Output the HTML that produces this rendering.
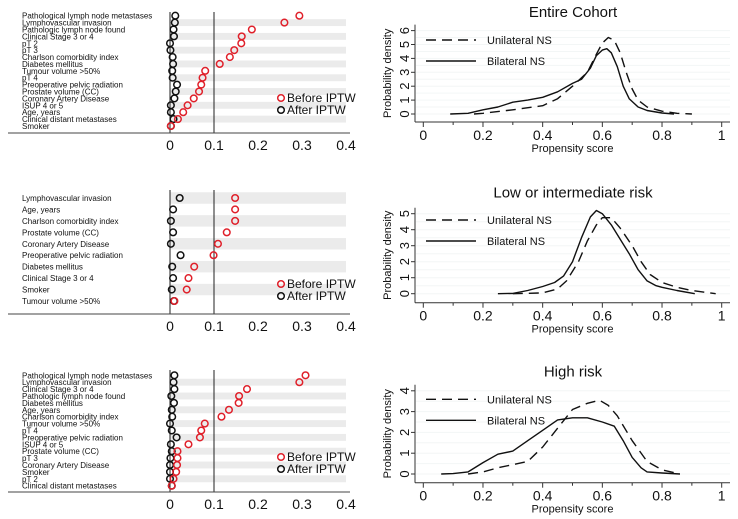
<!DOCTYPE html>
<html><head><meta charset="utf-8"><style>
html,body{margin:0;padding:0;background:#fff;}
svg{display:block;font-family:"Liberation Sans",sans-serif;}
</style></head><body>
<svg id="chart" width="738" height="519" viewBox="0 0 738 519" xmlns="http://www.w3.org/2000/svg"></svg>
<script>
// ---- Balance plots data ----
const topLabels = ["Pathological lymph node metastases","Lymphovascular invasion","Pathologic lymph node found","Clinical Stage 3 or 4","pT 2","pT 3","Charlson comorbidity index","Diabetes mellitus","Tumour volume >50%","pT 4","Preoperative pelvic radiation","Prostate volume (CC)","Coronary Artery Disease","ISUP 4 or 5","Age, years","Clinical distant metastases","Smoker"];
const topBefore = [0.294,0.26,0.186,0.163,0.162,0.146,0.136,0.113,0.08,0.074,0.071,0.066,0.054,0.040,0.030,0.018,0.002];
const topAfter  = [0.012,0.011,0.008,0.009,0.0,0.001,0.006,0.007,0.005,0.006,0.016,0.013,0.010,0.002,0.002,0.008,0.002];
const midLabels = ["Lymphovascular invasion","Age, years","Charlson comorbidity index","Prostate volume (CC)","Coronary Artery Disease","Preoperative pelvic radiation","Diabetes mellitus","Clinical Stage 3 or 4","Smoker","Tumour volume >50%"];
const midBefore = [0.148,0.148,0.148,0.129,0.109,0.099,0.055,0.042,0.038,0.010];
const midAfter  = [0.022,0.007,0.002,0.007,0.002,0.024,0.005,0.007,0.004,0.009];
const botLabels = ["Pathological lymph node metastases","Lymphovascular invasion","Clinical Stage 3 or 4","Pathologic lymph node found","Diabetes mellitus","Age, years","Charlson comorbidity index","Tumour volume >50%","pT 4","Preoperative pelvic radiation","ISUP 4 or 5","Prostate volume (CC)","pT 3","Coronary Artery Disease","Smoker","pT 2","Clinical distant metastases"];
const botBefore = [0.308,0.294,0.175,0.157,0.156,0.134,0.117,0.079,0.071,0.068,0.042,0.017,0.017,0.016,0.014,0.008,0.004];
const botAfter  = [0.010,0.008,0.010,0.003,0.009,0.004,0.005,0.0,0.004,0.015,0.002,0.004,0.001,0.0,0.0,0.0,0.004];
const balTicks = [0,0.1,0.2,0.3,0.4];
const balTickLabels = ["0","0.1","0.2","0.3","0.4"];

// ---- Density data ----
const entUniX = [0.17,0.2,0.3,0.4,0.45,0.5,0.55,0.58,0.6,0.62,0.64,0.66,0.68,0.7,0.72,0.75,0.8,0.85,0.9];
const entUniY = [0,0.05,0.3,0.6,1.1,2.0,3.0,4.3,5.1,5.5,5.3,4.4,3.0,1.8,1.0,0.5,0.2,0.05,0];
const entBiX = [0.09,0.15,0.2,0.25,0.3,0.35,0.4,0.45,0.5,0.53,0.56,0.58,0.6,0.615,0.63,0.65,0.67,0.69,0.72,0.75,0.8,0.84];
const entBiY = [0,0.05,0.3,0.5,0.85,1.0,1.2,1.6,2.2,2.5,3.3,4.2,4.6,4.7,4.4,3.4,2.0,1.1,0.5,0.25,0.07,0];
const lowUniX = [0.3,0.4,0.45,0.48,0.52,0.55,0.58,0.6,0.63,0.66,0.7,0.73,0.76,0.8,0.85,0.9,0.98];
const lowUniY = [0,0.05,0.3,0.8,2.0,3.3,4.3,4.75,4.75,4.1,3.0,2.0,1.2,0.7,0.4,0.2,0];
const lowBiX = [0.25,0.3,0.35,0.4,0.44,0.47,0.5,0.53,0.56,0.58,0.6,0.63,0.66,0.69,0.72,0.75,0.78,0.8,0.85,0.91];
const lowBiY = [0,0.02,0.2,0.45,0.7,1.1,2.0,3.5,4.8,5.2,5.0,4.3,3.4,2.5,1.5,0.8,0.5,0.4,0.2,0];
const highUniX = [0.15,0.2,0.25,0.3,0.35,0.4,0.45,0.5,0.55,0.59,0.62,0.65,0.7,0.75,0.8,0.86];
const highUniY = [0,0.1,0.3,0.45,0.6,1.3,2.2,3.1,3.4,3.55,3.3,2.8,1.6,0.6,0.2,0];
const highBiX = [0.06,0.1,0.15,0.2,0.25,0.3,0.35,0.4,0.45,0.5,0.55,0.6,0.64,0.67,0.7,0.73,0.75,0.8,0.86];
const highBiY = [0,0.02,0.1,0.55,0.95,1.1,1.6,2.1,2.6,2.7,2.7,2.5,2.3,1.6,0.8,0.3,0.1,0.05,0];
const densXTicks = [0,0.2,0.4,0.6,0.8,1];
const densXTickLabels = ["0","0.2","0.4","0.6","0.8","1"];

const NS="http://www.w3.org/2000/svg";
const svg=document.getElementById('chart');
function el(tag,attrs,parent){const e=document.createElementNS(NS,tag);for(const k in attrs)e.setAttribute(k,attrs[k]);(parent||svg).appendChild(e);return e;}

function balance(name,labels,before,after,rowTop,rowBot,lineTop,axisY,bandOdd,legY){
  const g=el('g',{});
  
  
  const xs=v=>170+v*440;
  const n=labels.length, step=(rowBot-rowTop)/(n-1);
  const ys=i=>rowTop+i*step;
  for(let i=0;i<n;i++){
    if((i%2===1)===bandOdd){
      const b=el('rect',{x:170,y:ys(i)-step/2,width:176,height:step,fill:'#ebebeb'},g);
      
      
    }
  }
  [0,0.1].forEach(v=>{
    const l=el('line',{x1:xs(v),x2:xs(v),y1:lineTop,y2:axisY,stroke:'#222','stroke-width':1},g);
    
    
  });
  const ax=el('line',{x1:8,x2:350,y1:axisY,y2:axisY,stroke:'#444','stroke-width':1},g);
  
  
  balTicks.forEach((v,i)=>{
    const t=el('text',{x:xs(v),y:axisY+17,'font-size':14,'text-anchor':'middle',fill:'#111'},g);
    t.textContent=balTickLabels[i];
    
    
  });
  const fs=8;
  for(let i=0;i<n;i++){
    const t=el('text',{x:22,y:ys(i)+3,'font-size':fs,fill:'#111'},g);
    t.textContent=labels[i];
    
    
    const a=el('circle',{cx:xs(after[i]),cy:ys(i),r:3.3,fill:'none',stroke:'#111','stroke-width':1.5},g);
    
    
    const b=el('circle',{cx:xs(before[i]),cy:ys(i),r:3.3,fill:'none',stroke:'#e0202a','stroke-width':1.5},g);
    
    
  }
  const lg=el('g',{},g);
  
  
  [['Before IPTW','#e0202a',legY],['After IPTW','#111',legY+12]].forEach(([txt,c,y])=>{
    const m=el('circle',{cx:281,cy:y,r:3.3,fill:'none',stroke:c,'stroke-width':1.5},lg);
    
    
    const t=el('text',{x:287,y:y+4,'font-size':12,fill:'#111'},lg);
    t.textContent=txt;
    
    
  });
}
balance('balance-plot-entire',topLabels,topBefore,topAfter,15.7,126,12,133,true,98);
balance('balance-plot-low',midLabels,midBefore,midAfter,198,301,190,314,false,284);
balance('balance-plot-high',botLabels,botBefore,botAfter,375.3,485.7,370,492,true,457);

function density(name,title,uniX,uniY,biX,biY,y0,pxPerUnit,yMax,axisY,titleY,legY){
  const g=el('g',{});
  
  
  const xs=v=>423.3+v*298.4;
  const ys=v=>y0-v*pxPerUnit;
  const top=ys(yMax)-6;
  for(let v=0;v<=yMax;v+=0.5){
    el('line',{x1:416,x2:730,y1:ys(v),y2:ys(v),stroke:'#f3f6f6','stroke-width':1},g);
  }
  const tt=el('text',{x:573,y:titleY+5,'font-size':15,'text-anchor':'middle',fill:'#111'},g);
  tt.textContent=title;
  
  
  const ya=el('line',{x1:415,x2:415,y1:top,y2:axisY,stroke:'#333','stroke-width':1},g);
  
  
  const xa=el('line',{x1:415,x2:730,y1:axisY,y2:axisY,stroke:'#333','stroke-width':1},g);
  
  
  for(let v=0;v<=yMax;v++){
    el('line',{x1:411,x2:415,y1:ys(v),y2:ys(v),stroke:'#333'},g);
    const t=el('text',{x:0,y:0,'font-size':13,'text-anchor':'middle',fill:'#111',transform:`translate(409,${ys(v)}) rotate(-90)`},g);
    t.textContent=String(v);
    
    
  }
  for(let k=0;k<=10;k++){
    el('line',{x1:xs(k/10),x2:xs(k/10),y1:axisY,y2:axisY+(k%2?3:5),stroke:'#333'},g);
  }
  densXTicks.forEach((v,i)=>{
    const t=el('text',{x:xs(v),y:axisY+18,'font-size':14,'text-anchor':'middle',fill:'#111'},g);
    t.textContent=densXTickLabels[i];
    
    
  });
  const xl=el('text',{x:xs(0.5),y:axisY+30,'font-size':11,'text-anchor':'middle',fill:'#111'},g);
  xl.textContent='Propensity score';
  
  
  const yl=el('text',{x:0,y:0,'font-size':11,'text-anchor':'middle',fill:'#111',transform:`translate(${391},${(top+axisY)/2}) rotate(-90)`},g);
  yl.textContent='Probability density';
  
  
  const pts=(X,Y)=>X.map((x,i)=>xs(x).toFixed(1)+','+ys(Y[i]).toFixed(1)).join(' ');
  const u=el('polyline',{points:pts(uniX,uniY),fill:'none',stroke:'#111','stroke-width':1.4,'stroke-dasharray':'10,6','stroke-linejoin':'round'},g);
  
  
  const b=el('polyline',{points:pts(biX,biY),fill:'none',stroke:'#111','stroke-width':1.4,'stroke-linejoin':'round'},g);
  
  
  const lg=el('g',{},g);
  
  
  el('line',{x1:426,x2:476,y1:legY,y2:legY,stroke:'#111','stroke-width':1.4,'stroke-dasharray':'10,6'},lg);
  el('line',{x1:426,x2:476,y1:legY+21,y2:legY+21,stroke:'#111','stroke-width':1.4},lg);
  const t1=el('text',{x:487,y:legY+4,'font-size':11,fill:'#111'},lg);
  t1.textContent='Unilateral NS';
  
  
  const t2=el('text',{x:487,y:legY+25,'font-size':11,fill:'#111'},lg);
  t2.textContent='Bilateral NS';
  
  
}
density('density-entire','Entire Cohort',entUniX,entUniY,entBiX,entBiY,114,13.9,6,122,12,40);
density('density-low','Low or intermediate risk',lowUniX,lowUniY,lowBiX,lowBiY,293.7,16,5,302.7,192.7,220);
density('density-high','High risk',highUniX,highUniY,highBiX,highBiY,474,20.8,4,482.7,371.7,399.3);
</script>
</body></html>
